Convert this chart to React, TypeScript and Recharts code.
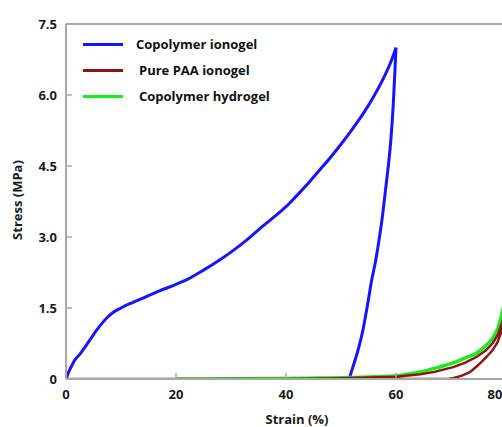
import React from "react";
import { LineChart, Line, XAxis, YAxis, ReferenceLine } from "recharts";

const FONT = "'Open Sans', 'Liberation Sans', sans-serif";
const BLUE = "#1414ff";
const RED = "#8e1515";
const GREEN = "#17f017";
const AXIS = "#a8a8a8";

const xTicks = [0, 20, 40, 60, 80];
const yTicks = [0, 1.5, 3.0, 4.5, 6.0, 7.5];

// Copolymer ionogel, loading branch
const loadStrain = [0, 0.5, 1, 1.6, 2.5, 3.5, 4.5, 5.5, 6.5, 7.5, 8.5, 10, 12, 14, 17, 20, 22, 25, 28, 30, 33, 36, 38, 40, 42, 44, 46, 48, 50, 52, 54, 56, 58, 59, 60];
const loadStress = [0, 0.15, 0.27, 0.4, 0.52, 0.68, 0.85, 1.02, 1.17, 1.3, 1.4, 1.5, 1.61, 1.71, 1.86, 2.0, 2.1, 2.3, 2.52, 2.68, 2.95, 3.25, 3.44, 3.64, 3.88, 4.13, 4.4, 4.67, 4.96, 5.27, 5.6, 5.98, 6.42, 6.68, 7.0];
// Copolymer ionogel, unloading branch
const unloadStrain = [51.5, 51.8, 52.4, 53.2, 54.0, 54.8, 55.6, 56.3, 57.0, 57.6, 58.1, 58.6, 59.1, 59.5, 59.8, 60];
const unloadStress = [0, 0.12, 0.34, 0.65, 1.04, 1.55, 2.1, 2.5, 3.0, 3.5, 4.0, 4.5, 5.1, 5.8, 6.5, 7.0];

// Pure PAA ionogel: loading to 80 %, then unloading
const paaStrain = [0, 40, 48, 55, 60, 64.4, 67, 70.4, 72.5, 74.7, 76.3, 77.6, 78.5, 79.3, 80,
  79.7, 79.3, 78.4, 77.5, 76.5, 75, 73.5, 72, 70.5, 69.5, 0];
const paaStress = [0, 0, 0.01, 0.03, 0.05, 0.1, 0.15, 0.25, 0.34, 0.47, 0.6, 0.76, 0.93, 1.19, 1.45,
  1.25, 1.04, 0.76, 0.6, 0.47, 0.3, 0.15, 0.07, 0.02, 0, 0];

// Copolymer hydrogel
const hydrogelStrain = [20, 30, 40, 46, 52, 56, 60, 64.4, 67.5, 70.4, 72.5, 74.7, 76.3, 77.6, 78.6, 79.3, 80];
const hydrogelStress = [0, 0.005, 0.01, 0.02, 0.03, 0.05, 0.07, 0.15, 0.24, 0.34, 0.44, 0.55, 0.7, 0.87, 1.1, 1.4, 1.75];

const seriesNames = ["Copolymer ionogel", "Pure PAA ionogel", "Copolymer hydrogel"];
const seriesColors = [BLUE, RED, GREEN];

const zip = (xs: number[], ys: number[]) => xs.map((x, i) => ({ x, y: ys[i] }));
const loadData = zip(loadStrain, loadStress);
const unloadData = zip(unloadStrain, unloadStress);
const paaData = zip(paaStrain, paaStress);
const hydrogelData = zip(hydrogelStrain, hydrogelStress);

const tickStyle = { fill: "#1a1a1a", fontSize: 13, fontFamily: FONT, fontWeight: 700 };

// last label gets pulled inside the chart edge, like the original
function XTick(props: any) {
  const { x, y, payload } = props;
  const shift = payload.value === 80 ? -11 : 0;
  return (
    <text x={x + shift} y={y} dy="0.71em" textAnchor="middle" {...tickStyle}>{payload.value}</text>
  );
}

// legend drawn as an overlay so it doesn't eat plot space
function LegendBox() {
  return (
    <div style={{ position: "absolute", left: 83, top: 31, fontFamily: FONT, fontWeight: 700, fontSize: 13, color: "#111" }}>
      {seriesNames.map((n, i) => (
        <div key={n} style={{ display: "flex", alignItems: "center", height: 26 }}>
          <span style={{ display: "inline-block", width: 40, height: 3, background: seriesColors[i], marginRight: i === 0 ? 13 : 16 }} />
          <span>{n}</span>
        </div>
      ))}
    </div>
  );
}

export default function App() {
  return (
    <div style={{ position: "absolute", left: 0, top: 0, width: 502, height: 427, overflow: "hidden", background: "#fff" }}>
      <LineChart width={520} height={427} margin={{ top: 24, right: 14, bottom: 0, left: 0 }}>
        <XAxis
          dataKey="x" type="number" domain={[0, 80]} ticks={xTicks} allowDataOverflow
          tick={<XTick />} tickSize={-6} tickMargin={17}
          axisLine={{ stroke: AXIS, strokeWidth: 2 }} tickLine={{ stroke: AXIS, strokeWidth: 1.5 }}
          height={48}
          label={{
            content: () => (
              <text x={297} y={424} textAnchor="middle" fill="#1a1a1a" fontSize={13} fontFamily={FONT} fontWeight={700}>Strain (%)</text>
            ),
          }}
        />
        <YAxis
          dataKey="y" type="number" domain={[0, 7.5]} ticks={yTicks} allowDataOverflow
          tickFormatter={(v: number) => (v === 0 ? "0" : v.toFixed(1))}
          tick={tickStyle} tickSize={-6} tickMargin={15}
          axisLine={{ stroke: AXIS, strokeWidth: 2 }} tickLine={{ stroke: AXIS, strokeWidth: 1.5 }}
          width={66}
          label={{
            content: () => (
              <text x={17} y={200} transform="rotate(-90 17 200)" textAnchor="middle" dominantBaseline="central" fill="#1a1a1a" fontSize={13} fontFamily={FONT} fontWeight={700}>Stress (MPa)</text>
            ),
          }}
        />
        <ReferenceLine y={7.5} stroke={AXIS} strokeWidth={2} />
        <Line data={loadData} dataKey="y" name={seriesNames[0]} stroke={BLUE} strokeWidth={3} dot={false} isAnimationActive={false} type="monotone" />
        <Line data={unloadData} dataKey="y" stroke={BLUE} strokeWidth={3} dot={false} isAnimationActive={false} type="monotone" />
        <Line data={hydrogelData} dataKey="y" name={seriesNames[2]} stroke={GREEN} strokeWidth={3.5} dot={false} isAnimationActive={false} type="monotone" />
        <Line data={paaData} dataKey="y" name={seriesNames[1]} stroke={RED} strokeWidth={2.5} dot={false} isAnimationActive={false} type="linear" />
      </LineChart>
      <LegendBox />
    </div>
  );
}
